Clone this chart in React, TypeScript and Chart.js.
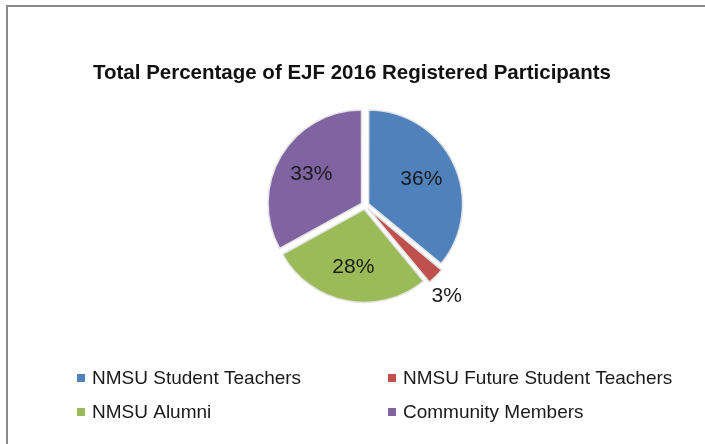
import React, { useEffect, useRef } from "react";
import { Chart, registerables } from "chart.js";

Chart.register(...registerables);

const categories = [
  "NMSU Student Teachers",
  "NMSU Future Student Teachers",
  "NMSU Alumni",
  "Community Members",
];
const values = [36, 3, 28, 33];
const valueLabels = ["36%", "3%", "28%", "33%"];
const colors = ["#4F81BD", "#C0504D", "#9BBB59", "#8064A2"];
const titleText = "Total Percentage of EJF 2016 Registered Participants";

const FONT = "'Liberation Sans', Arial, sans-serif";

const decorPlugin = {
  id: "decor",
  beforeDraw(chart: any) {
    const ctx = chart.ctx as CanvasRenderingContext2D;
    ctx.save();
    ctx.fillStyle = "#ffffff";
    ctx.fillRect(0, 0, chart.width, chart.height);
    ctx.strokeStyle = "#8a8a8a";
    ctx.lineWidth = 2;
    ctx.beginPath();
    ctx.moveTo(7, chart.height);
    ctx.lineTo(7, 6);
    ctx.lineTo(chart.width, 6);
    ctx.stroke();
    ctx.restore();
  },
  afterDraw(chart: any) {
    const ctx = chart.ctx as CanvasRenderingContext2D;
    ctx.save();
    // title
    ctx.fillStyle = "#111111";
    ctx.font = `bold 20.5px ${FONT}`;
    ctx.textAlign = "center";
    ctx.textBaseline = "middle";
    ctx.fillText(titleText, 352, 73);

    // data labels
    const meta = chart.getDatasetMeta(0);
    const total = values.reduce((a, b) => a + b, 0);
    ctx.font = `21px ${FONT}`;
    ctx.fillStyle = "#1a1a1a";
    meta.data.forEach((arc: any, i: number) => {
      const p = arc.getProps(["x", "y", "startAngle", "endAngle", "outerRadius"], true);
      const frac = values[i] / total;
      const outside = frac < 0.05;
      const mid = (p.startAngle + p.endAngle) / 2 + (outside ? 0.05 : 0);
      const k = outside ? 1.31 : 0.67;
      const lx = p.x + Math.cos(mid) * p.outerRadius * k;
      const ly = p.y + Math.sin(mid) * p.outerRadius * k;
      ctx.fillText(valueLabels[i], lx, ly);
    });

    // legend
    const colX = [77, 388];
    const rowY = [378, 412];
    ctx.font = `19px ${FONT}`;
    ctx.textAlign = "left";
    categories.forEach((c, i) => {
      const x = colX[i % 2];
      const y = rowY[Math.floor(i / 2)];
      ctx.fillStyle = colors[i];
      ctx.fillRect(x, y - 4, 8, 8);
      ctx.fillStyle = "#1a1a1a";
      ctx.fillText(c, x + 15, y + 1);
    });
    ctx.restore();
  },
};

export default function App() {
  const ref = useRef<HTMLCanvasElement | null>(null);
  useEffect(() => {
    if (!ref.current) return;
    const chart = new Chart(ref.current, {
      type: "pie",
      data: {
        labels: categories,
        datasets: [
          {
            data: values,
            backgroundColor: colors,
            borderColor: "#e4e4e4",
            borderWidth: 1.5,
            offset: 16,
          },
        ],
      },
      options: {
        responsive: false,
        animation: false,
        radius: 93,
        layout: { padding: { left: 165, right: 140, top: 55, bottom: 88 } },
        plugins: {
          legend: { display: false },
          title: { display: false },
          tooltip: { enabled: false },
        },
      } as any,
      plugins: [decorPlugin],
    });
    return () => chart.destroy();
  }, []);
  return (
    <div style={{ position: "fixed", left: 0, top: 0, width: 705, height: 444, background: "#fff" }}>
      <canvas ref={ref} width={705} height={444} style={{ display: "block" }} />
    </div>
  );
}
